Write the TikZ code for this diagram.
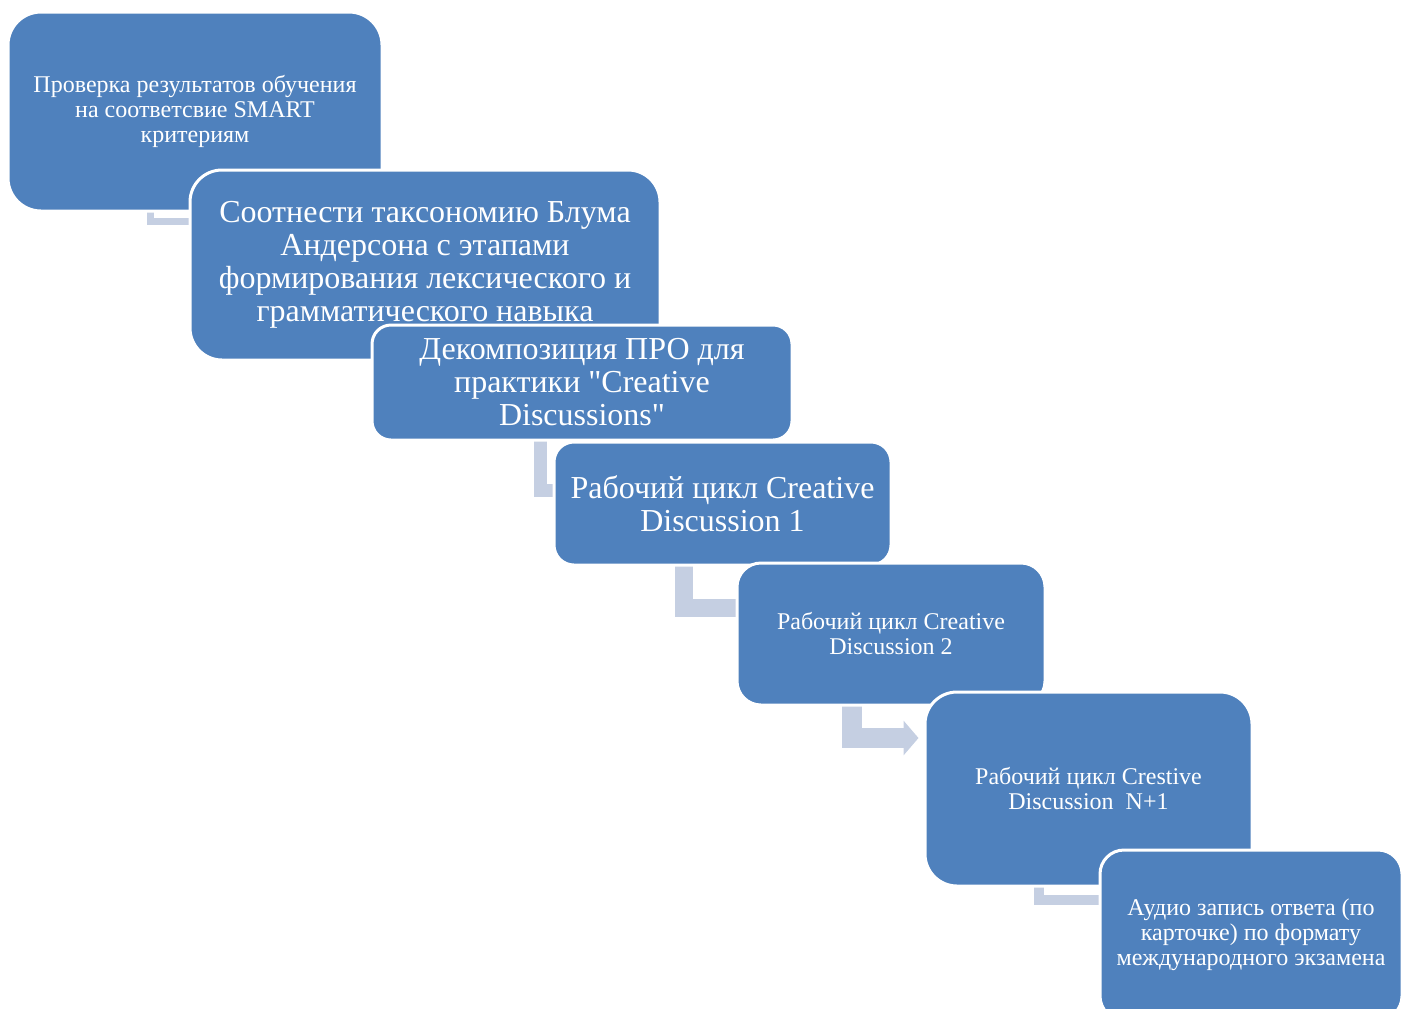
\documentclass[tikz,border=0pt]{standalone}
\usepackage{fontspec}
\setmainfont{Liberation Serif}[Ligatures=TeXOff]
\usetikzlibrary{calc,backgrounds,arrows.meta}
\definecolor{boxblue}{RGB}{79,129,189}
\definecolor{connblue}{RGB}{197,207,226}
\tikzset{
  stepbox/.style={draw=white, line width=1.5pt, fill=boxblue, text=white,
    align=center, inner sep=0pt, rounded corners=#1},
  smalltext/.style={font=\fontsize{12}{12.5}\selectfont},
  bigtext/.style={font=\fontsize{16}{16.5}\selectfont},
  conn/.style={draw=connblue, line cap=butt, line join=miter}
}
\begin{document}
\begin{tikzpicture}[x=0.5pt, y=-0.5pt]
  \useasboundingbox (0,0) rectangle (1408,1008);

  \node [stepbox=16.5pt, smalltext, minimum width=187pt, minimum height=99.5pt] (box1) at (195, 111.5)
    {Проверка результатов обучения\\на соответсвие SMART\\критериям};
  \node [stepbox=16pt, bigtext, minimum width=235pt, minimum height=95pt] (box2) at (425, 265)
    {Соотнести таксономию Блума\\Андерсона с этапами\\формирования лексического и\\грамматического навыка};
  \node [stepbox=9.5pt, bigtext, minimum width=210pt, minimum height=57.5pt] (box3) at (582, 382.5)
    {Декомпозиция ПРО для\\практики "Creative\\Discussions"};
  \node [stepbox=10pt, bigtext, minimum width=168.5pt, minimum height=61.5pt] (box4) at (722.5, 503.5)
    {Рабочий цикл Creative\\Discussion 1};
  \node [stepbox=12pt, smalltext, minimum width=154pt, minimum height=71pt] (box5) at (891, 634)
    {Рабочий цикл Creative\\Discussion 2};
  \node [stepbox=16pt, smalltext, minimum width=163.5pt, minimum height=97pt] (box6) at (1088.5, 789)
    {Рабочий цикл Crestive\\Discussion~ N+1};
  \node [stepbox=12pt, smalltext, minimum width=151pt, minimum height=85pt] (box7) at (1251, 935)
    {Аудио запись ответа (по\\карточке) по формату\\международного экзамена};

  % bent connectors, behind the boxes
  \begin{pgfonlayer}{background}
    \draw [conn, line width=3.5pt] ($(box1.south west)+(143.5,-20)$) |- ($(box1.south west -| box2.west)+(10,8.5)$);
    \draw [conn, line width=6.5pt] ($(box3.south west)+(169.5,-20)$) |- ($(box3.south west -| box4.west)+(10,48.5)$);
    \draw [conn, line width=9pt] ($(box4.south west)+(131.5,-20)$) |- ($(box4.south west -| box5.west)+(10,41.5)$);
    \draw [conn, line width=10pt, -{Triangle[length=7.5pt, width=17pt]}] ($(box5.south west)+(116,-20)$) |- ($(box5.south west -| box6.west)+(-5,31.5)$);
    \draw [conn, line width=5pt] ($(box6.south west)+(115,-20)$) |- ($(box6.south west -| box7.west)+(10,12)$);
  \end{pgfonlayer}
\end{tikzpicture}
\end{document}
